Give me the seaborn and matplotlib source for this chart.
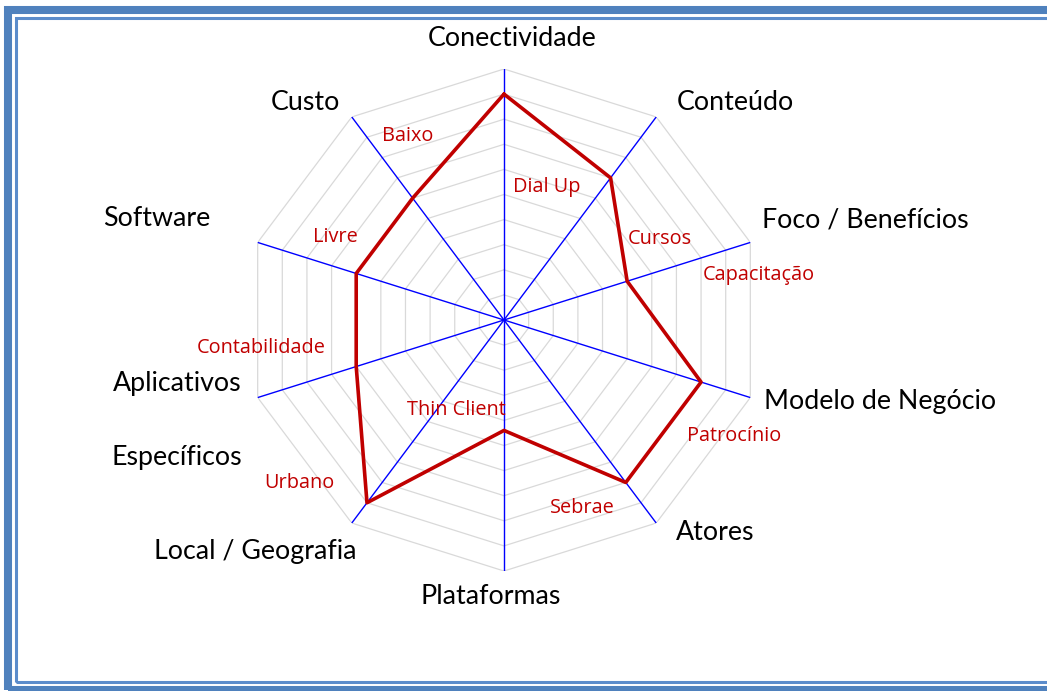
import numpy as np
import pandas as pd
import matplotlib
matplotlib.use("Agg")
import matplotlib.pyplot as plt
from matplotlib.patches import Rectangle
import seaborn as sns

sns.set_theme(style="white")
plt.rcParams["font.family"] = ["Lato", "DejaVu Sans"]

# -----------------------------
# DATA
# -----------------------------
categories = ["Conectividade", "Conteúdo", "Foco / Benefícios", "Modelo de Negócio",
              "Atores", "Plataformas", "Local / Geografia", "Aplicativos\n\nEspecíficos",
              "Software", "Custo"]
scores = [9, 7, 5, 8, 8, 4.4, 9, 6, 6, 6]
choices = ["Dial Up", "Cursos", "Capacitação", "Patrocínio", "Sebrae",
           "Thin Client", "Urbano", "Contabilidade", "Livre", "Baixo"]
rings = list(range(1, 11))

# -----------------------------
# LAYOUT (pixel positions of text boxes)
# -----------------------------
W, H = 1047, 691
cat_pos = [(512, 38), (735, 102), (865, 220), (880, 402), (715, 533),
           (491, 596), (255, 552), (177, 421), (157, 218), (305, 102)]
choice_pos = [(547, 187), (660, 239), (759, 275), (734, 436), (582, 508),
              (456, 410), (299, 483), (261, 348), (335, 237), (408, 136)]

n = len(categories)
theta = np.linspace(0, 2 * np.pi, n, endpoint=False)
theta_closed = np.append(theta, theta[0])

df = pd.DataFrame({"theta": theta_closed, "score": scores + scores[:1]})

fig = plt.figure(figsize=(W / 100, H / 100), dpi=100)
fig.patch.set_facecolor("white")

# frame (outer thick band + inner thin line)
fig.add_artist(Rectangle((8 / W, (H - 690) / H), 1, (690 - 10) / H, transform=fig.transFigure,
                         fill=False, edgecolor="#4F81BD", linewidth=5.8))
fig.add_artist(Rectangle((15.5 / W, (H - 681.5) / H), 1, (681.5 - 17.5) / H,
                         transform=fig.transFigure,
                         fill=False, edgecolor="#5B8CCB", linewidth=2.2))

ax = fig.add_axes([(504 - 259) / W, (H - 320 - 251) / H, 518 / W, 502 / H], projection="polar")
ax.set_aspect("auto")
ax.set_theta_zero_location("N")
ax.set_theta_direction(-1)
ax.patch.set_alpha(0)

# decagon grid
for r in rings:
    ax.plot(theta_closed, [r] * (n + 1), color="#D9D9D9", linewidth=0.9, zorder=1)
# spokes
for t in theta:
    ax.plot([t, t], [0, rings[-1]], color="#0000FF", linewidth=1.0, zorder=2)

sns.lineplot(data=df, x="theta", y="score", ax=ax, sort=False, estimator=None,
             color="#C00000", linewidth=2.6, zorder=3)

ax.set_ylim(0, rings[-1])
ax.set_xticks([])
ax.set_yticks([])
ax.grid(False)
ax.spines["polar"].set_visible(False)
ax.set_xlabel("")
ax.set_ylabel("")

for label, (x, y) in zip(categories, cat_pos):
    fig.text(x / W, 1 - y / H, label, ha="center", va="center",
             fontsize=19.3, color="black", linespacing=1.6)

for label, (x, y) in zip(choices, choice_pos):
    fig.text(x / W, 1 - y / H, label, ha="center", va="center",
             fontsize=14.3, color="#C00000", family=["Open Sans", "DejaVu Sans"])

fig.savefig("out.png", dpi=100)
